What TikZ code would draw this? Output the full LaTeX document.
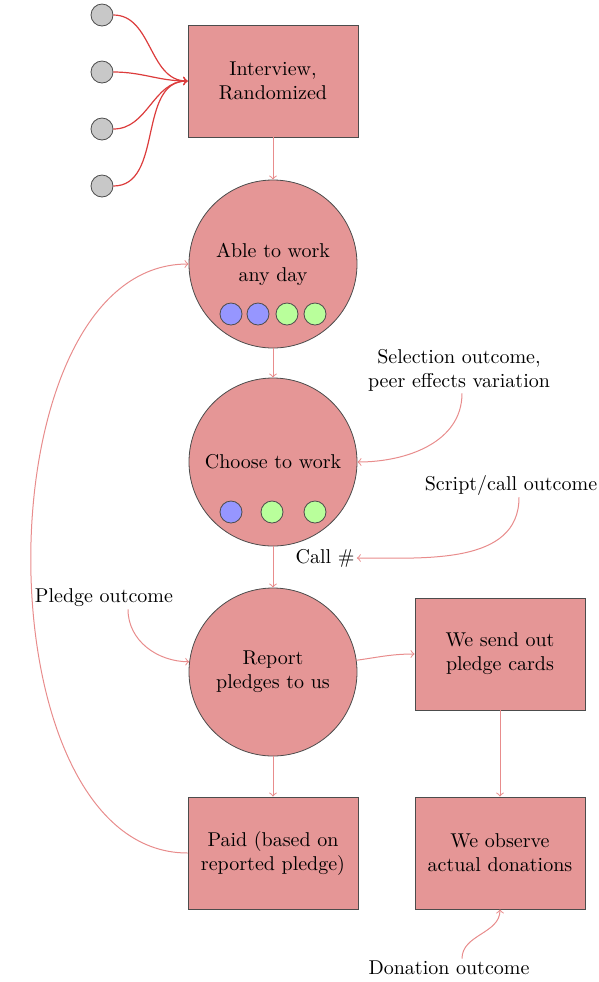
\documentclass[tikz,border=0pt]{standalone}
\usetikzlibrary{arrows}
\definecolor{boxfill}{RGB}{229,150,150}
\definecolor{flowarrow}{RGB}{232,140,140}
\definecolor{inarrow}{RGB}{220,60,60}
\definecolor{dotblue}{RGB}{150,150,255}
\definecolor{dotgreen}{RGB}{185,255,155}
\definecolor{dotgray}{RGB}{200,200,200}
\begin{document}
\begin{tikzpicture}[x=0.5pt,y=-0.5pt,
  stepbox/.style={draw=black!70,fill=boxfill,minimum width=85pt,minimum height=56pt,align=center,inner sep=2pt},
  stepcirc/.style={draw=black!70,fill=boxfill,circle,minimum size=84pt,align=center,inner sep=0pt},
  smalldot/.style={draw=black!70,circle,minimum size=11pt,inner sep=0pt},
  graydot/.style={smalldot,fill=dotgray},
  bluedot/.style={smalldot,fill=dotblue},
  greendot/.style={smalldot,fill=dotgreen},
  flow/.style={draw=flowarrow,->,line width=0.5pt},
  inflow/.style={draw=inarrow,->,line width=0.6pt},
  lbl/.style={align=center,inner sep=1pt}]
\useasboundingbox (0,0) rectangle (599,982);

% top inputs
\node[graydot] (g1) at (102,15) {};
\node[graydot] (g2) at (102,72) {};
\node[graydot] (g3) at (102,129) {};
\node[graydot] (g4) at (102,186) {};

\node[stepbox] (interview) at (273,81) {Interview,\\Randomized};
\foreach \g in {g1,g2,g3,g4}
  \draw[inflow] (\g.east) to[out=0,in=180] (interview.west);

\node[stepcirc] (able) at (273,264) {Able to work\\any day};
\node[bluedot] (a1) at (231,314) {};
\node[bluedot] (a2) at (258,314) {};
\node[greendot] (a3) at (287,314) {};
\node[greendot] (a4) at (315,314) {};

\node[stepcirc] (choose) at (273,462) {Choose to work};
\node[bluedot] (c1) at (231,512) {};
\node[greendot] (c2) at (272,512) {};
\node[greendot] (c3) at (315,512) {};

\node[stepcirc] (report) at (273,672) {Report\\pledges to us};
\node[stepbox] (cards) at (500,654) {We send out\\pledge cards};
\node[stepbox] (paid) at (273,853) {Paid (based on\\reported pledge)};
\node[stepbox] (observe) at (500,853) {We observe\\actual donations};

% labels
\node[lbl] (sel) at (459,370) {Selection outcome,\\peer effects variation};
\node[lbl] (script) at (511,485) {Script/call outcome};
\node[lbl] (call) at (325,558) {Call \#};
\node[lbl] (pledge) at (104,598) {Pledge outcome};
\node[lbl] (donation) at (449,968) {Donation outcome};

% main flow
\draw[flow] (interview.south) -- (able.north);
\draw[flow] (able.south) -- (choose.north);
\draw[flow] (choose.south) -- (report.north);
\draw[flow] (report.south) -- (paid.north);
\draw[flow] (cards.south) -- (observe.north);
\draw[flow] (report.8) to[out=8,in=180] (cards.west);
\draw[flow] (paid.west) .. controls (-22,853) and (-21,264) .. (able.west);

% annotations
\draw[flow] ([xshift=1.5pt]sel.south) to[out=-90,in=0] (choose.east);
\draw[flow] ([xshift=4pt]script.south) to[out=-90,in=0] (call.east);
\draw[flow] ([xshift=12pt]pledge.south) to[out=-90,in=180] (report.173);
\draw[flow] ([xshift=6.5pt]donation.north) to[out=90,in=-90] (observe.south);
\end{tikzpicture}
\end{document}
